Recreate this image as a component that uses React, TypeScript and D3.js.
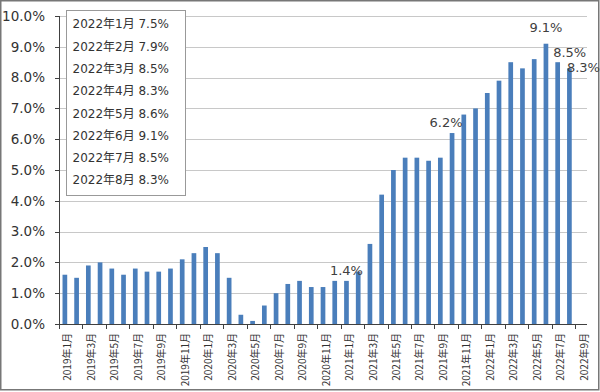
import React, { useEffect, useRef } from "react";
import * as d3 from "d3";

// 米国CPI 前年同月比 (2019年1月〜2022年8月)
const months: string[] = [];
for (let y = 2019; y <= 2022; y++) {
  for (let m = 1; m <= 12; m++) {
    if (y === 2022 && m > 9) break;
    months.push(`${y}年${m}月`);
  }
}
const values2019 = [1.6, 1.5, 1.9, 2.0, 1.8, 1.6, 1.8, 1.7, 1.7, 1.8, 2.1, 2.3];
const values2020 = [2.5, 2.3, 1.5, 0.3, 0.1, 0.6, 1.0, 1.3, 1.4, 1.2, 1.2, 1.4];
const values2021 = [1.4, 1.7, 2.6, 4.2, 5.0, 5.4, 5.4, 5.3, 5.4, 6.2, 6.8, 7.0];
const values2022 = [7.5, 7.9, 8.5, 8.3, 8.6, 9.1, 8.5, 8.3];
const values = [...values2019, ...values2020, ...values2021, ...values2022];

const yTicks = [0, 1, 2, 3, 4, 5, 6, 7, 8, 9, 10];
const legendLines = [
  "2022年1月 7.5%",
  "2022年2月 7.9%",
  "2022年3月 8.5%",
  "2022年4月 8.3%",
  "2022年5月 8.6%",
  "2022年6月 9.1%",
  "2022年7月 8.5%",
  "2022年8月 8.3%",
];
// 値ラベルを付ける月
const labeled = ["2021年1月", "2021年10月", "2022年6月", "2022年7月", "2022年8月"];

const W = 600;
const H = 392;
const left = 59;
const right = 587;
const top = 16;
const bottom = 324;

const App = () => {
  const svgRef = useRef<SVGSVGElement>(null);

  useEffect(() => {
    const svg = d3.select(svgRef.current);
    svg.selectAll("*").remove();

    const x = d3
      .scaleBand<string>()
      .domain(months)
      .range([left, right])
      .paddingInner(0.6)
      .paddingOuter(0.3);
    const y = d3.scaleLinear().domain([0, 10]).range([bottom, top]);
    const step = x.step();
    const x0 = (i: number) => (x(months[0]) as number) - step * 0.3 + i * step;

    // frame
    svg
      .append("rect")
      .attr("x", 0.75)
      .attr("y", 0.75)
      .attr("width", W - 2)
      .attr("height", H - 3)
      .attr("fill", "#fff")
      .attr("stroke", "#777")
      .attr("stroke-width", 1.5);

    // grid
    svg
      .append("g")
      .selectAll("line")
      .data(yTicks.filter((t) => t > 0))
      .join("line")
      .attr("x1", left)
      .attr("x2", right)
      .attr("y1", (d) => Math.round(y(d)) + 0.5)
      .attr("y2", (d) => Math.round(y(d)) + 0.5)
      .attr("stroke", "#c8c8c8")
      .attr("stroke-width", 1);

    // bars
    svg
      .append("g")
      .selectAll("rect")
      .data(values)
      .join("rect")
      .attr("x", (d, i) => x(months[i]) as number)
      .attr("y", (d) => y(d))
      .attr("width", x.bandwidth())
      .attr("height", (d) => bottom - y(d))
      .attr("fill", "#4a7ebb");

    // y axis
    const yAxis = svg.append("g");
    yAxis
      .append("line")
      .attr("x1", left + 0.5)
      .attr("x2", left + 0.5)
      .attr("y1", top)
      .attr("y2", bottom)
      .attr("stroke", "#404040");
    yAxis
      .selectAll("line.tick")
      .data(yTicks)
      .join("line")
      .attr("class", "tick")
      .attr("x1", left - 4)
      .attr("x2", left)
      .attr("y1", (d) => Math.round(y(d)) + 0.5)
      .attr("y2", (d) => Math.round(y(d)) + 0.5)
      .attr("stroke", "#404040");
    yAxis
      .selectAll("text")
      .data(yTicks)
      .join("text")
      .attr("x", 45)
      .attr("y", (d) => y(d))
      .attr("dy", "0.36em")
      .attr("text-anchor", "end")
      .attr("font-family", "'DejaVu Sans', sans-serif")
      .attr("font-size", 13.5)
      .attr("fill", "#333")
      .text((d) => d3.format(".1f")(d) + "%");

    // x axis
    const xAxis = svg.append("g");
    xAxis
      .append("line")
      .attr("x1", left)
      .attr("x2", right)
      .attr("y1", bottom + 0.5)
      .attr("y2", bottom + 0.5)
      .attr("stroke", "#404040");
    const tickIdx = d3.range(0, months.length, 2);
    xAxis
      .selectAll("line.tick")
      .data(tickIdx)
      .join("line")
      .attr("class", "tick")
      .attr("x1", (i) => Math.round(x0(i)) + 0.5)
      .attr("x2", (i) => Math.round(x0(i)) + 0.5)
      .attr("y1", bottom)
      .attr("y2", bottom + 5)
      .attr("stroke", "#404040");
    xAxis
      .selectAll("text")
      .data(tickIdx)
      .join("text")
      .attr("transform", (i) => {
        const cx = (x(months[i]) as number) + x.bandwidth() / 2 + 3;
        return `translate(${cx},${bottom + 9}) rotate(-90)`;
      })
      .attr("dy", "0.36em")
      .attr("text-anchor", "end")
      .attr("font-family", "'Noto Sans CJK JP', sans-serif")
      .attr("font-size", 10)
      .attr("fill", "#333")
      .text((i) => months[i]);

    // value labels
    const labelOffset: Record<string, [number, number]> = {
      "2021年1月": [0, -6],
      "2021年10月": [-6, -6],
      "2022年6月": [0, -12],
      "2022年7月": [12, -5],
      "2022年8月": [14, 4],
    };
    svg
      .append("g")
      .selectAll("text")
      .data(labeled)
      .join("text")
      .attr("x", (m) => (x(m) as number) + x.bandwidth() / 2 + labelOffset[m][0])
      .attr("y", (m) => y(values[months.indexOf(m)]) + labelOffset[m][1])
      .attr("text-anchor", "middle")
      .attr("font-family", "'DejaVu Sans', sans-serif")
      .attr("font-size", 13)
      .attr("fill", "#404040")
      .text((m) => d3.format(".1f")(values[months.indexOf(m)]) + "%");

    // legend box
    const lg = svg.append("g");
    lg.append("rect")
      .attr("x", 66.5)
      .attr("y", 10.5)
      .attr("width", 119)
      .attr("height", 185)
      .attr("fill", "#fff")
      .attr("stroke", "#999");
    lg.selectAll("text")
      .data(legendLines)
      .join("text")
      .attr("x", 72.5)
      .attr("y", (d, i) => 24 + i * 22.3)
      .attr("dy", "0.36em")
      .attr("font-family", "'DejaVu Sans', 'Noto Sans CJK JP', sans-serif")
      .attr("font-size", 12)
      .attr("fill", "#333")
      .text((d) => d);
  }, []);

  return (
    <svg
      ref={svgRef}
      width={W}
      height={H}
      style={{ position: "fixed", left: 0, top: 0, background: "#fff" }}
    />
  );
};

export default App;
